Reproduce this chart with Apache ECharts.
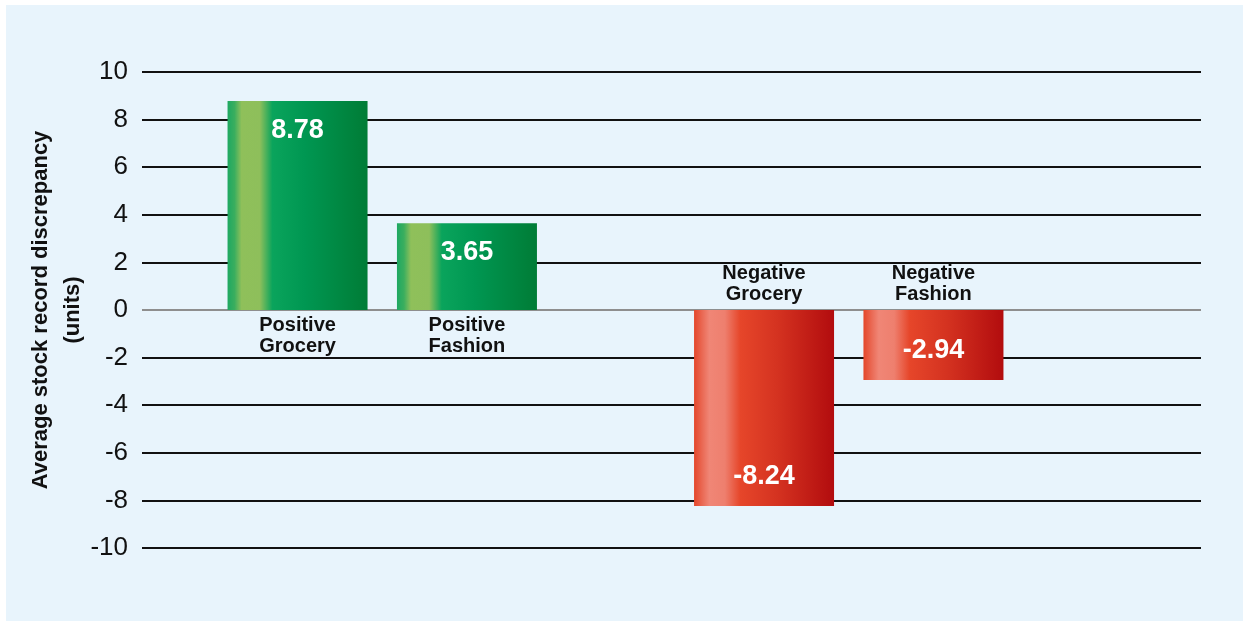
<!DOCTYPE html>
<html>
<head>
<meta charset="utf-8">
<script src="https://cdn.jsdelivr.net/npm/echarts@6/dist/echarts.min.js"></script>
<style>
html, body { margin: 0; padding: 0; background: #ffffff; }
#panel {
    position: absolute;
    left: 6px; top: 5px;
    width: 1237px; height: 616px;
    background: #e8f4fc;
}
</style>
</head>
<body>
<div id="panel"></div>
<script>
// 数据
const groups = ['Positive', 'Negative'];
const groceryValues = [8.78, -8.24];
const fashionValues = [3.65, -2.94];
const yMin = -10, yMax = 10, yStep = 2;

const FONT = '"Liberation Sans", Arial, sans-serif';

// gradients
function greenFill() {
    return new echarts.graphic.LinearGradient(0, 0, 1, 0, [
        { offset: 0, color: '#1ea862' },
        { offset: 0.05, color: '#3aae5e' },
        { offset: 0.1, color: '#8fc05a' },
        { offset: 0.23, color: '#8ebf5b' },
        { offset: 0.32, color: '#0aa45c' },
        { offset: 0.55, color: '#009752' },
        { offset: 1, color: '#007c36' }
    ]);
}
function redFill() {
    return new echarts.graphic.LinearGradient(0, 0, 1, 0, [
        { offset: 0, color: '#e4462a' },
        { offset: 0.06, color: '#ea6a55' },
        { offset: 0.11, color: '#f08676' },
        { offset: 0.22, color: '#ee7f6e' },
        { offset: 0.33, color: '#e6462a' },
        { offset: 0.6, color: '#d43220' },
        { offset: 1, color: '#b20c0e' }
    ]);
}

function barData(values) {
    return values.map(v => ({
        value: v,
        itemStyle: { color: v >= 0 ? greenFill() : redFill() },
        label: { position: v >= 0 ? 'insideTop' : 'insideBottom' }
    }));
}
function nameData(values) {
    return values.map(v => ({
        value: v,
        label: { position: v >= 0 ? 'bottom' : 'top' }
    }));
}

// zero line grey, others black
const splitColors = [];
for (let v = yMin; v <= yMax; v += yStep) splitColors.push(v === 0 ? '#8e8e8e' : '#111111');

const valueLabel = {
    show: true,
    color: '#ffffff',
    fontFamily: FONT,
    fontWeight: 'bold',
    fontSize: 27,
    distance: 16,
    formatter: p => p.value.toFixed(2)
};
const nameLabel = {
    show: true,
    color: '#111111',
    fontFamily: FONT,
    fontWeight: 'bold',
    fontSize: 20,
    lineHeight: 21,
    distance: 5,
    formatter: '{b}\n{a}'
};

const option = {
    animation: false,
    grid: [
        { left: 136, right: 42, top: 67, bottom: 73 },
        { left: 143, right: 161, top: 67, bottom: 73 }
    ],
    xAxis: [
        { gridIndex: 0, type: 'category', data: groups, show: false },
        { gridIndex: 1, type: 'category', data: groups, show: false },
        { gridIndex: 1, type: 'category', data: groups, show: false }
    ],
    yAxis: [
        {
            gridIndex: 0,
            type: 'value',
            min: yMin, max: yMax, interval: yStep,
            axisLine: { show: false },
            axisTick: { show: false },
            axisLabel: {
                color: '#111111',
                fontFamily: FONT,
                fontSize: 26,
                margin: 14
            },
            splitLine: { lineStyle: { color: splitColors, width: 2 } },
            name: 'Average stock record discrepancy\n(units)',
            nameLocation: 'middle',
            nameGap: 53,
            nameMoveOverlap: false,
            nameTextStyle: {
                color: '#111111',
                fontFamily: FONT,
                fontWeight: 'bold',
                fontSize: 22,
                lineHeight: 32
            }
        },
        {
            gridIndex: 1,
            type: 'value',
            min: yMin, max: yMax, interval: yStep,
            show: false
        }
    ],
    series: [
        {
            name: 'Grocery', type: 'bar',
            xAxisIndex: 1, yAxisIndex: 1,
            barWidth: 140, barGap: '21%',
            data: barData(groceryValues),
            label: valueLabel
        },
        {
            name: 'Fashion', type: 'bar',
            xAxisIndex: 1, yAxisIndex: 1,
            barWidth: 140, barGap: '21%',
            data: barData(fashionValues),
            label: valueLabel
        },
        {
            name: 'Grocery', type: 'bar',
            xAxisIndex: 2, yAxisIndex: 1,
            barWidth: 140, barGap: '21%',
            silent: true,
            itemStyle: { color: 'rgba(0,0,0,0)' },
            data: nameData(groceryValues),
            label: nameLabel
        },
        {
            name: 'Fashion', type: 'bar',
            xAxisIndex: 2, yAxisIndex: 1,
            barWidth: 140, barGap: '21%',
            silent: true,
            itemStyle: { color: 'rgba(0,0,0,0)' },
            data: nameData(fashionValues),
            label: nameLabel
        }
    ]
};

const chart = echarts.init(document.getElementById('panel'));
chart.setOption(option);
</script>
</body>
</html>
